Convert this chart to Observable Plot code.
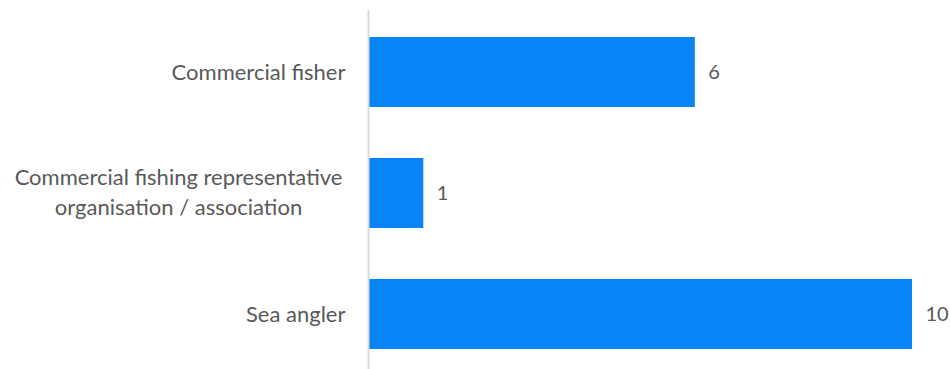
<!DOCTYPE html>
<html>
<head>
<meta charset="utf-8">
<script src="https://cdn.jsdelivr.net/npm/d3@7"></script>
<script src="https://cdn.jsdelivr.net/npm/@observablehq/plot@0.6"></script>
<style>
  html, body { margin: 0; padding: 0; background: #fff; }
  svg { display: block; }
</style>
</head>
<body>
<div id="chart"></div>
<script>
const categories = ["Commercial fisher", "Commercial fishing representative organisation / association", "Sea angler"];
const tickLabels = ["Commercial fisher", "Commercial fishing representative\norganisation / association", "Sea angler"];
const values = [6, 1, 10];

const data = categories.map((c, i) => ({category: c, value: values[i], label: tickLabels[i]}));
const single = data.filter(d => !d.label.includes("\n"));
const multi = data.filter(d => d.label.includes("\n"));

const FS = 22;
const chart = Plot.plot({
  width: 950,
  height: 369,
  marginLeft: 369,
  marginRight: 38,
  marginTop: 10,
  marginBottom: 0,
  style: {fontFamily: "Lato, 'Open Sans', sans-serif", fontSize: FS + "px", color: "#595959", background: "#fff", overflow: "visible"},
  x: {domain: [0, 10], axis: null},
  y: {domain: categories, range: [10, 375], paddingInner: 0.424, paddingOuter: 0.214, axis: null},
  marks: [
    Plot.barX(data, {x: "value", y: "category", fill: "#0984F7"}),
    Plot.ruleX([0], {stroke: "#d9d9d9", strokeWidth: 2, dx: -1}),
    Plot.text(data, {x: "value", y: "category", text: d => String(d.value), textAnchor: "start", dx: 13, fill: "#595959", fontSize: 20}),
    Plot.text(single, {y: "category", text: "label", frameAnchor: "left", textAnchor: "end", dx: -24, fill: "#595959", fontSize: FS}),
    Plot.text(multi, {y: "category", text: "label", frameAnchor: "left", textAnchor: "middle", dx: -191, dy: -3, lineHeight: 1.36, fill: "#595959", fontSize: FS})
  ]
});
document.getElementById("chart").appendChild(chart);
</script>
</body>
</html>
